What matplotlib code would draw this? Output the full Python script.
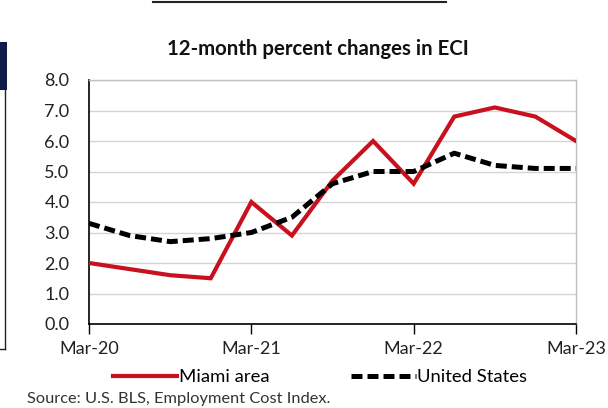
import matplotlib

matplotlib.use("Agg")

import matplotlib.pyplot as plt
import numpy as np
from matplotlib.lines import Line2D
from matplotlib.patches import Rectangle

# --------------------------------------------------
# Data: 12-month percent changes in ECI, quarterly
# --------------------------------------------------
quarters = ["Mar-20", "Jun-20", "Sep-20", "Dec-20",
            "Mar-21", "Jun-21", "Sep-21", "Dec-21",
            "Mar-22", "Jun-22", "Sep-22", "Dec-22",
            "Mar-23"]
miami = [2.0, 1.8, 1.6, 1.5, 4.0, 2.9, 4.7, 6.0, 4.6, 6.8, 7.1, 6.8, 6.0]
united_states = [3.3, 2.9, 2.7, 2.8, 3.0, 3.5, 4.6, 5.0, 5.0, 5.6, 5.2, 5.1, 5.1]
year_ticks = ["Mar-20", "Mar-21", "Mar-22", "Mar-23"]
y_ticks = [0.0, 1.0, 2.0, 3.0, 4.0, 5.0, 6.0, 7.0, 8.0]

FONT = "Lato"
W, H = 608, 408


def fx(px):
    return px / W


def fy(py):
    return 1 - py / H


fig = plt.figure(figsize=(W / 100, H / 100), dpi=100)
fig.patch.set_facecolor("white")

ax = fig.add_axes([fx(89), fy(324), fx(576 - 89), (324 - 80) / H])

x = np.arange(len(quarters))
ax.plot(x, miami, color="#C8101E", lw=3.0, solid_joinstyle="miter",
        label="Miami area", zorder=3)
ax.plot(x, united_states, color="black", lw=3.6, dashes=(2.2, 1),
        label="United States", zorder=4)

ax.set_xlim(0, len(quarters) - 1)
ax.set_ylim(0, 8)

ax.set_xticks([quarters.index(q) for q in year_ticks])
ax.set_xticklabels(year_ticks, fontsize=13, family=FONT, color="#222222")
ax.set_yticks(y_ticks)
ax.set_yticklabels([f"{v:.1f}" for v in y_ticks], fontsize=13,
                   family=FONT, color="#222222")

ax.tick_params(axis="x", length=7, width=1, direction="out", pad=5,
               color="black")
ax.tick_params(axis="y", length=0, pad=14)

ax.grid(axis="y", color="#D4D4D4", lw=1)
ax.set_axisbelow(True)
for side in ("top", "right"):
    ax.spines[side].set_color("#BFBFBF")
    ax.spines[side].set_linewidth(1)
for side in ("left", "bottom"):
    ax.spines[side].set_color("black")
    ax.spines[side].set_linewidth(1.2)

fig.text(fx(318), fy(49), "12-month percent changes in ECI",
         ha="center", va="center", fontsize=14.7, fontweight="bold",
         family=FONT, color="#111111")

fig.legend(loc="center", bbox_to_anchor=(fx(320), fy(377)), ncol=2,
           frameon=False, prop={"family": FONT, "size": 13.3},
           handlelength=3.5, handletextpad=0.1, columnspacing=4.4)

fig.text(fx(27), fy(399), "Source: U.S. BLS, Employment Cost Index.",
         ha="left", va="center", fontsize=11.8, family=FONT,
         color="#333333")

# page fragments around the chart
fig.add_artist(Rectangle((0, fy(90)), fx(7), (90 - 42) / H,
                         transform=fig.transFigure, color="#101B4A",
                         lw=0))
fig.add_artist(Line2D([fx(4.5), fx(4.5)], [fy(90), fy(349)],
                      transform=fig.transFigure, color="#222222", lw=1))
fig.add_artist(Line2D([0, fx(4.5)], [fy(349), fy(349)],
                      transform=fig.transFigure, color="#222222", lw=1))
fig.add_artist(Line2D([fx(153), fx(446)], [fy(2), fy(2)],
                      transform=fig.transFigure, color="#222222", lw=1.5))

fig.savefig("out.png", dpi=100)
